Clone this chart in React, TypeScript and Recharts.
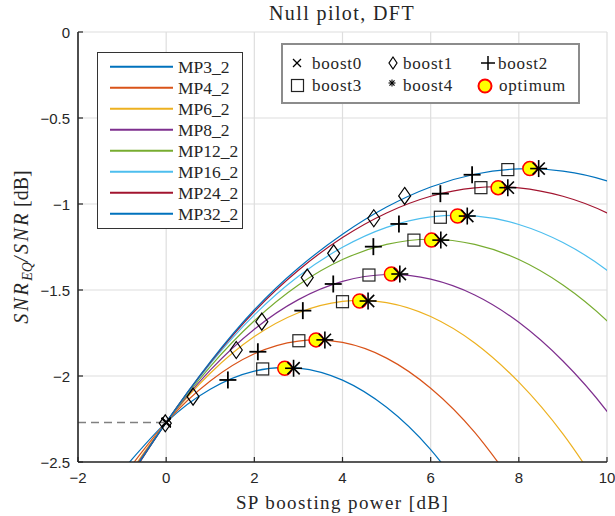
import {
  CartesianGrid,
  ComposedChart,
  Legend,
  Line,
  Scatter,
  XAxis,
  YAxis,
} from 'recharts'

// x grid of the curves (dB of SP boosting)
const X_VALUES = [-1, 0, 1, 2, 3, 4, 5, 6, 7, 8, 9, 10, 11]

const SERIES_NAMES = ['MP3_2', 'MP4_2', 'MP6_2', 'MP8_2', 'MP12_2', 'MP16_2', 'MP24_2', 'MP32_2']
const SERIES_COLORS = ['#0072BD', '#D95319', '#EDB120', '#7E2F8E', '#77AC30', '#4DBEEE', '#A2142F', '#0072BD']

const MP3_2 = [-2.551, -2.27, -2.077, -1.972, -1.954, -2.024, -2.182, -2.428, -2.762, null, null, null, null]
const MP4_2 = [-2.593, -2.27, -2.029, -1.871, -1.797, -1.805, -1.896, -2.071, -2.328, -2.668, null, null, null]
const MP6_2 = [-2.63, -2.27, -1.984, -1.771, -1.632, -1.566, -1.573, -1.654, -1.808, -2.036, -2.337, -2.711, null]
const MP8_2 = [-2.642, -2.271, -1.966, -1.728, -1.556, -1.45, -1.41, -1.437, -1.529, -1.688, -1.913, -2.205, -2.562]
const MP12_2 = [-2.655, -2.271, -1.945, -1.679, -1.471, -1.323, -1.235, -1.205, -1.235, -1.323, -1.471, -1.679, -1.945]
const MP16_2 = [-2.663, -2.27, -1.93, -1.645, -1.42, -1.252, -1.136, -1.075, -1.069, -1.119, -1.224, -1.385, -1.601]
const MP24_2 = [-2.66, -2.27, -1.922, -1.625, -1.385, -1.195, -1.052, -0.955, -0.906, -0.906, -0.955, -1.052, -1.198]
const MP32_2 = [-2.652, -2.27, -1.918, -1.615, -1.372, -1.176, -1.018, -0.901, -0.827, -0.796, -0.809, -0.866, -0.967]
const SERIES_VALUES = [MP3_2, MP4_2, MP6_2, MP8_2, MP12_2, MP16_2, MP24_2, MP32_2]

// markers, one per MP curve
const BOOST0_X = [0, 0, 0, 0, 0, 0, 0, 0]
const BOOST0_Y = [-2.27, -2.27, -2.27, -2.27, -2.27, -2.27, -2.27, -2.27]
const BOOST1_X = [-0.02, 0.61, 1.59, 2.17, 3.2, 3.8, 4.71, 5.41]
const BOOST1_Y = [-2.275, -2.12, -1.849, -1.684, -1.428, -1.287, -1.083, -0.953]
const BOOST2_X = [1.4, 2.08, 3.1, 3.79, 4.7, 5.28, 6.22, 6.94]
const BOOST2_Y = [-2.023, -1.859, -1.62, -1.465, -1.248, -1.116, -0.94, -0.83]
const BOOST3_X = [2.19, 3.01, 4.0, 4.6, 5.62, 6.22, 7.14, 7.75]
const BOOST3_Y = [-1.959, -1.795, -1.568, -1.413, -1.21, -1.077, -0.905, -0.8]
const OPT_X = [2.69, 3.4, 4.39, 5.11, 6.02, 6.61, 7.53, 8.25]
const OPT_Y = [-1.955, -1.79, -1.564, -1.407, -1.21, -1.07, -0.905, -0.794]
const BOOST4_X = [2.89, 3.6, 4.58, 5.3, 6.23, 6.83, 7.75, 8.45]
const BOOST4_Y = [-1.955, -1.79, -1.564, -1.407, -1.21, -1.07, -0.905, -0.794]

const REF_X = [-2, 0]
const REF_Y = [-2.27, -2.27]

const X_TICKS = [-2, 0, 2, 4, 6, 8, 10]
const Y_TICKS = [-2.5, -2, -1.5, -1, -0.5, 0]

const rows = X_VALUES.map((x, i) => {
  const row: Record<string, number | null> = { x }
  SERIES_NAMES.forEach((name, k) => {
    row[name] = SERIES_VALUES[k][i]
  })
  return row
})

const pts = (xs: number[], ys: number[]) => xs.map((x, i) => ({ x, y: ys[i] }))

const SERIF = "'Liberation Serif', 'DejaVu Serif', serif"
const SANS = "'Liberation Sans', Arimo, sans-serif"
const TXT = '#262626'

const fmt = (v: number) => String(v).replace('-', '\u2212')

function XTick({ x, y, payload }: any) {
  return (
    <g>
      <line x1={x} y1={y} x2={x} y2={y - 5} stroke="#262626" strokeWidth={1.2} />
      <text x={x} y={y + 21} textAnchor="middle" style={{ fontFamily: SANS, fontSize: 15 }} fill={TXT}>
        {fmt(payload.value)}
      </text>
    </g>
  )
}

function YTick({ x, y, payload }: any) {
  return (
    <g>
      <line x1={x} y1={y} x2={x + 5} y2={y} stroke="#262626" strokeWidth={1.2} />
      <text x={x - 8} y={y + 5.5} textAnchor="end" style={{ fontFamily: SANS, fontSize: 15 }} fill={TXT}>
        {fmt(payload.value)}
      </text>
    </g>
  )
}

function XLabel({ viewBox }: any) {
  return (
    <text
      x={viewBox.x + viewBox.width / 2}
      y={viewBox.y + 47}
      textAnchor="middle"
      style={{ fontFamily: SERIF, fontSize: 19, letterSpacing: 1.4 }}
      fill={TXT}
    >
      SP boosting power [dB]
    </text>
  )
}

function YLabel({ viewBox }: any) {
  const cy = viewBox.y + viewBox.height / 2
  return (
    <text transform="rotate(-90)" x={-cy} y={28} textAnchor="middle" style={{ fontFamily: SERIF, fontSize: 20 }} fill={TXT}>
      <tspan fontStyle="italic" letterSpacing={2.5}>SNR</tspan>
      <tspan fontStyle="italic" fontSize={14} dy={4}>EQ</tspan>
      <tspan fontStyle="italic" dy={-4} letterSpacing={2.5}>/SNR</tspan>
      <tspan dx={4}>[dB]</tspan>
    </text>
  )
}

const Cross = ({ cx, cy, s = 4.5, w = 1.3 }: any) => (
  <g stroke="#000" strokeWidth={w}>
    <line x1={cx - s} y1={cy - s} x2={cx + s} y2={cy + s} />
    <line x1={cx - s} y1={cy + s} x2={cx + s} y2={cy - s} />
  </g>
)
const Diamond = ({ cx, cy, w = 6, h = 8.5 }: any) => (
  <path
    d={`M${cx},${cy - h}L${cx + w},${cy}L${cx},${cy + h}L${cx - w},${cy}Z`}
    fill="none"
    stroke="#000"
    strokeWidth={1.2}
  />
)
const Plus = ({ cx, cy, s = 8.5, w = 1.8 }: any) => (
  <g stroke="#000" strokeWidth={w}>
    <line x1={cx - s} y1={cy} x2={cx + s} y2={cy} />
    <line x1={cx} y1={cy - s} x2={cx} y2={cy + s} />
  </g>
)
const Square = ({ cx, cy, s = 6 }: any) => (
  <rect x={cx - s} y={cy - s} width={2 * s} height={2 * s} fill="none" stroke="#222" strokeWidth={1.2} />
)
const Optimum = ({ cx, cy, r = 7, w = 1.5 }: any) => (
  <circle cx={cx} cy={cy} r={r} fill="#FFFF00" stroke="#FF0000" strokeWidth={w} />
)
const Star = ({ cx, cy, s = 8.5, w = 1.6 }: any) => {
  const d = s * 0.72
  return (
    <g stroke="#000" strokeWidth={w}>
      <line x1={cx - s} y1={cy} x2={cx + s} y2={cy} />
      <line x1={cx} y1={cy - s} x2={cx} y2={cy + s} />
      <line x1={cx - d} y1={cy - d} x2={cx + d} y2={cy + d} />
      <line x1={cx - d} y1={cy + d} x2={cx + d} y2={cy - d} />
    </g>
  )
}

function Overlay() {
  const lt = { fontFamily: SERIF, fontSize: 17.5 }
  const bt = { fontFamily: SERIF, fontSize: 17, letterSpacing: 0.8 }
  return (
    <svg width={615} height={516} style={{ position: 'absolute', left: 0, top: 0 }}>
      <text x={342} y={20} textAnchor="middle" style={{ fontFamily: SERIF, fontSize: 20, letterSpacing: 1.4 }} fill={TXT}>
        Null pilot, DFT
      </text>
      <rect x={97.5} y={52.5} width={145} height={176} fill="#fff" stroke="#333" strokeWidth={1} />
      {SERIES_NAMES.map((name, i) => (
        <g key={name}>
          <line x1={110} y1={66.7 + 21 * i} x2={173} y2={66.7 + 21 * i} stroke={SERIES_COLORS[i]} strokeWidth={2} />
          <text x={178} y={66.7 + 21 * i + 6} style={lt} fill={TXT}>
            {name}
          </text>
        </g>
      ))}
      <rect x={282} y={44} width={297} height={59} fill="#fff" stroke="#8c8c8c" strokeWidth={2} />
      <Cross cx={297} cy={63} s={4} />
      <text x={312} y={69} style={bt} fill={TXT}>boost0</text>
      <Diamond cx={393} cy={63} w={4} h={6} />
      <text x={403} y={69} style={bt} fill={TXT}>boost1</text>
      <Plus cx={488} cy={63} s={7} w={1.5} />
      <text x={498} y={69} style={bt} fill={TXT}>boost2</text>
      <Square cx={297.5} cy={85.5} s={6} />
      <text x={312} y={91} style={bt} fill={TXT}>boost3</text>
      <Star cx={392} cy={83} s={3.5} w={1.1} />
      <text x={403} y={91} style={bt} fill={TXT}>boost4</text>
      <Optimum cx={485} cy={86} r={6.5} w={2} />
      <text x={499} y={91} style={bt} fill={TXT}>optimum</text>
    </svg>
  )
}

export default function App() {
  return (
    <div style={{ position: 'absolute', left: 0, top: 0, width: 615, height: 516, background: '#fff' }}>
      <ComposedChart width={615} height={516} data={rows} margin={{ top: 32, right: 8, bottom: 0, left: 0 }}>
        <CartesianGrid stroke="#dedede" strokeWidth={1.2} />
        <XAxis
          dataKey="x"
          type="number"
          domain={[-2, 10]}
          ticks={X_TICKS}
          allowDataOverflow
          height={54}
          tickSize={0}
          tickMargin={0}
          tickLine={false}
          tick={<XTick />}
          axisLine={{ stroke: '#262626', strokeWidth: 1.6 }}
          label={<XLabel />}
        />
        <YAxis
          type="number"
          domain={[-2.5, 0]}
          ticks={Y_TICKS}
          allowDataOverflow
          width={78}
          tickSize={0}
          tickMargin={0}
          tickLine={false}
          tick={<YTick />}
          axisLine={{ stroke: '#262626', strokeWidth: 1.6 }}
          label={<YLabel />}
        />
        <Line
          data={pts(REF_X, REF_Y)}
          dataKey="y"
          stroke="#808080"
          strokeWidth={1.5}
          strokeDasharray="8 5"
          dot={false}
          isAnimationActive={false}
        />
        {SERIES_NAMES.map((name, i) => (
          <Line
            key={name}
            dataKey={name}
            type="natural"
            stroke={SERIES_COLORS[i]}
            strokeWidth={1.2}
            dot={false}
            isAnimationActive={false}
          />
        ))}
        <Scatter data={pts(BOOST0_X, BOOST0_Y)} dataKey="y" shape={(p: any) => <Cross {...p} />} isAnimationActive={false} />
        <Scatter data={pts(BOOST1_X, BOOST1_Y)} dataKey="y" shape={(p: any) => <Diamond {...p} />} isAnimationActive={false} />
        <Scatter data={pts(BOOST2_X, BOOST2_Y)} dataKey="y" shape={(p: any) => <Plus {...p} />} isAnimationActive={false} />
        <Scatter data={pts(BOOST3_X, BOOST3_Y)} dataKey="y" shape={(p: any) => <Square {...p} />} isAnimationActive={false} />
        <Scatter data={pts(OPT_X, OPT_Y)} dataKey="y" shape={(p: any) => <Optimum {...p} />} isAnimationActive={false} />
        <Scatter data={pts(BOOST4_X, BOOST4_Y)} dataKey="y" shape={(p: any) => <Star {...p} />} isAnimationActive={false} />
        <Legend content={() => <Overlay />} wrapperStyle={{ position: 'absolute', left: 0, top: 0, width: 615, height: 516, pointerEvents: 'none' }} verticalAlign="middle" align="center" layout="horizontal" />
      </ComposedChart>
    </div>
  )
}
